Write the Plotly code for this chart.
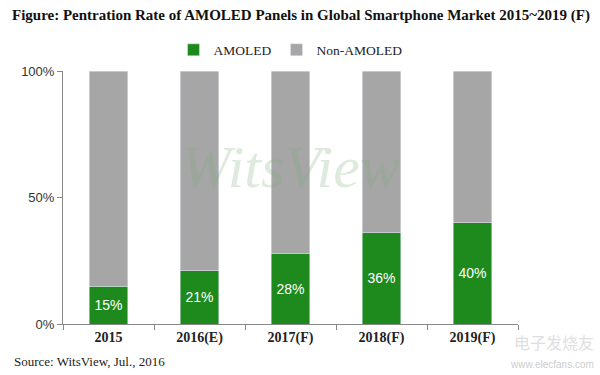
import plotly.graph_objects as go

years = ["2015", "2016(E)", "2017(F)", "2018(F)", "2019(F)"]
amoled = [15, 21, 28, 36, 40]
non_amoled = [85, 79, 72, 64, 60]
amoled_labels = ["15%", "21%", "28%", "36%", "40%"]

green = "#1e8a1e"
gray = "#a6a6a6"

fig = go.Figure()
fig.add_trace(go.Bar(
    x=years, y=amoled, name="AMOLED", marker_color=green,
    text=amoled_labels, textposition="inside", insidetextanchor="middle",
    textfont=dict(color="white", size=14, family="Liberation Sans"),
    width=0.42,
))
fig.add_trace(go.Bar(
    x=years, y=non_amoled, name="Non-AMOLED", marker_color=gray,
    width=0.42, hoverinfo="skip",
))

fig.update_layout(
    barmode="stack",
    width=600, height=375,
    margin=dict(l=63, r=82, t=71, b=51, autoexpand=False),
    paper_bgcolor="white", plot_bgcolor="white",
    showlegend=True,
    legend=dict(orientation="h", x=0.5, xanchor="center", y=1.083, yanchor="middle",
                font=dict(family="Liberation Serif", size=13.5, color="#222"),
                traceorder="normal"),
    title=dict(text="<b>Figure: Pentration Rate of AMOLED Panels in Global Smartphone Market 2015~2019 (F)</b>",
               x=12 / 600, xanchor="left", xref="container", y=0.96, yref="container", yanchor="middle",
               font=dict(family="Liberation Serif", size=15, color="#111")),
    uniformtext=dict(mode="show", minsize=10),
)
fig.update_yaxes(
    range=[0, 100], tickvals=[0, 50, 100], ticktext=["0%", "50%", "100%"],
    showgrid=False, showline=True, linecolor="#888", linewidth=1,
    ticks="outside", ticklen=5, tickcolor="#888",
    tickfont=dict(family="Liberation Sans", size=13, color="#333"),
)
fig.update_xaxes(
    showgrid=False, showline=True, linecolor="#888", linewidth=1,
    ticks="outside", ticklen=5, tickcolor="#888", tickson="boundaries",
    tickvals=years, ticktext=[f"<b>{y}</b>" for y in years],
    tickfont=dict(family="Liberation Serif", size=14, color="#222"),
)
fig.add_annotation(
    text="<i>WitsView</i>", xref="paper", yref="paper", x=0.5, y=0.62,
    showarrow=False, font=dict(family="Liberation Serif", size=60, color="rgba(120,170,120,0.25)"),
)
fig.add_annotation(
    text="Source: WitsView, Jul., 2016", xref="paper", yref="paper",
    x=-0.112, y=-0.15, xanchor="left", yanchor="middle", showarrow=False,
    font=dict(family="Liberation Serif", size=13, color="#222"),
)
fig.add_annotation(
    text="电子发烧友", xref="paper", yref="paper",
    x=1.171, y=-0.07, xanchor="right", yanchor="middle", showarrow=False,
    font=dict(family="Noto Sans CJK SC", size=16, color="rgba(200,200,200,0.6)"),
)
fig.add_annotation(
    text="www.elecfans.com", xref="paper", yref="paper",
    x=1.171, y=-0.16, xanchor="right", yanchor="middle", showarrow=False,
    font=dict(family="Liberation Sans", size=10, color="rgba(190,190,190,0.8)"),
)
fig.write_html("out.html", config={"displayModeBar": False},
               post_script="document.body.style.margin='0';document.body.style.overflow='hidden';")
